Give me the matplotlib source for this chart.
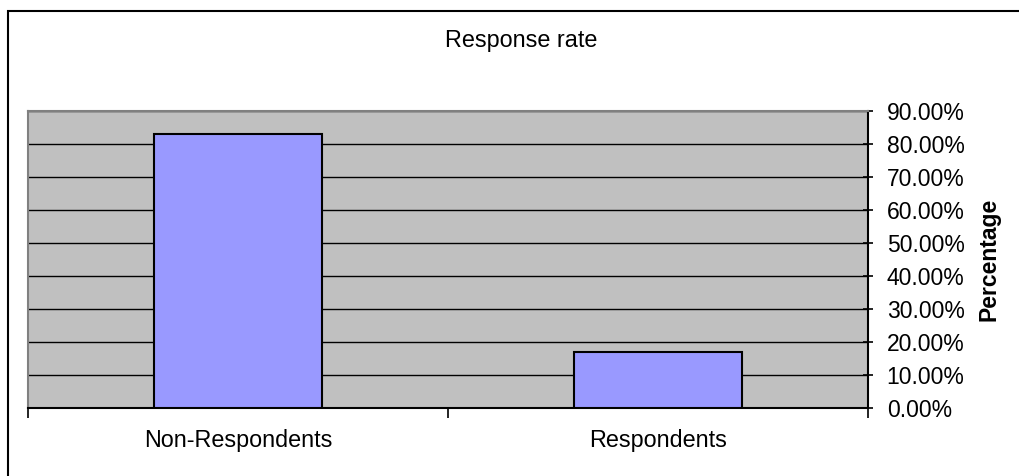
import matplotlib
matplotlib.use("Agg")
import matplotlib.pyplot as plt
from matplotlib.patches import Rectangle
from matplotlib.ticker import FuncFormatter, MultipleLocator

plt.rcParams["font.family"] = ["Liberation Sans", "DejaVu Sans"]

# response split
categories = ["Non-Respondents", "Respondents"]
shares = [0.83, 0.17]

W, H = 1019, 476
fig = plt.figure(figsize=(W / 100, H / 100), dpi=100)

# outer chart frame (only top and left edges fall inside the canvas)
fig.patches.append(Rectangle((8 / W, -0.1), 1.2, 1 - 11 / H + 0.1,
                             transform=fig.transFigure, fill=False,
                             edgecolor="black", lw=1.5))

ax = fig.add_axes([28 / W, 1 - 408 / H, 840 / W, 297 / H])
ax.set_facecolor("#C0C0C0")

x = range(len(categories))
ax.bar(x, shares, width=0.4, color="#9999FF", edgecolor="black",
       lw=1.5, zorder=3)

ax.set_xlim(-0.5, len(categories) - 0.5)
ax.set_ylim(0, 0.9)
ax.yaxis.set_major_locator(MultipleLocator(0.1))
ax.yaxis.set_major_formatter(FuncFormatter(lambda v, p: f"{v * 100:.2f}%"))
ax.yaxis.tick_right()
ax.grid(axis="y", color="black", lw=1, zorder=1)
ax.set_axisbelow(True)

# category boundaries get the tick marks, labels sit between them
ax.set_xticks([-0.5, 0.5, 1.5])
ax.set_xticklabels([])
ax.set_xticks(list(x), minor=True)
ax.set_xticklabels(categories, minor=True, fontsize=16.8)
ax.tick_params(axis="x", which="major", length=7, width=1.2, direction="out")
ax.tick_params(axis="x", which="minor", length=0, pad=15)
ax.tick_params(axis="y", length=7, width=1.2, direction="inout",
               labelsize=16.5, pad=10)

for side in ("top", "left"):
    ax.spines[side].set_color("#808080")
    ax.spines[side].set_linewidth(1.5)
for side in ("right", "bottom"):
    ax.spines[side].set_color("black")
    ax.spines[side].set_linewidth(1.5)

fig.text(521 / W, 1 - 40 / H, "Response rate", ha="center", va="center",
         fontsize=16.8)
fig.text(989 / W, 1 - 259 / H, "Percentage", ha="center", va="center",
         rotation=90, fontsize=16.5, fontweight="bold")

fig.savefig("out.png", dpi=100, facecolor="white")
